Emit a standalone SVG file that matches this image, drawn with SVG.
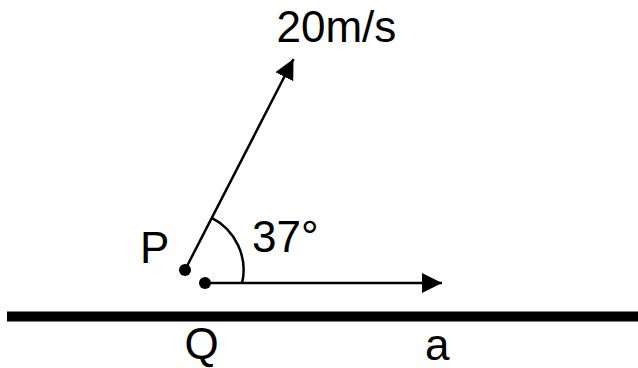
<svg xmlns="http://www.w3.org/2000/svg" width="638" height="368" viewBox="0 0 638 368">
  <style>
    .lbl { font-family: "Liberation Sans", Arial, sans-serif; font-size: 44px; fill: #000; }
    .ln { stroke: #000; stroke-width: 2.5; fill: none; }
  </style>
  <defs>
    <marker id="arr" markerUnits="userSpaceOnUse" markerWidth="22" markerHeight="22" refX="20" refY="10" orient="auto">
      <path d="M0,0 L20,10 L0,20 Z" fill="#000"/>
    </marker>
  </defs>
  <rect width="638" height="368" fill="#fff"/>
  <g id="ground">
    <rect x="7" y="311.5" width="631" height="10" fill="#000"/>
  </g>
  <g id="connectors">
    <line class="ln" x1="185" y1="270" x2="293.5" y2="59" marker-end="url(#arr)"/>
    <line class="ln" x1="205" y1="283" x2="442" y2="283" marker-end="url(#arr)"/>
    <path class="ln" d="M211.7,217.9 A58.5,58.5 0 0 1 242.1,283"/>
  </g>
  <g id="P">
    <circle cx="185" cy="270" r="6" fill="#000"/>
    <text class="lbl" x="140" y="263">P</text>
  </g>
  <g id="Q">
    <circle cx="205" cy="283" r="6" fill="#000"/>
    <text class="lbl" x="184.5" y="359">Q</text>
  </g>
  <g id="velocity-label">
    <text class="lbl" x="276.5" y="42">20m/s</text>
  </g>
  <g id="angle-label">
    <text class="lbl" x="252" y="252">37°</text>
  </g>
  <g id="accel-label">
    <text class="lbl" x="425" y="359.5">a</text>
  </g>
</svg>
